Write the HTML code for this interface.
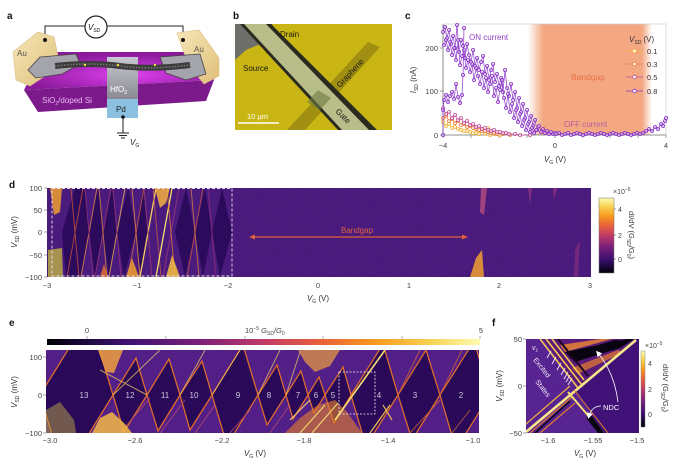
<!DOCTYPE html>
<html><head><meta charset="utf-8"><style>
html,body{margin:0;padding:0;background:#fff;}
svg{display:block;font-family:"Liberation Sans",sans-serif;}
</style></head><body>
<svg width="681" height="470" viewBox="0 0 681 470" xmlns="http://www.w3.org/2000/svg">
<defs>
<linearGradient id="gH" x1="0" y1="0" x2="1" y2="0">
<stop offset="0" stop-color="#000003"/><stop offset="0.08" stop-color="#1a0838"/><stop offset="0.18" stop-color="#3c0f70"/><stop offset="0.35" stop-color="#7a1f7a"/><stop offset="0.5" stop-color="#c03a68"/><stop offset="0.63" stop-color="#e8603a"/><stop offset="0.76" stop-color="#f89a20"/><stop offset="0.88" stop-color="#f8d050"/><stop offset="1" stop-color="#fcfcb0"/>
</linearGradient>
<linearGradient id="gV" x1="0" y1="1" x2="0" y2="0">
<stop offset="0" stop-color="#000003"/><stop offset="0.08" stop-color="#1a0838"/><stop offset="0.18" stop-color="#3c0f70"/><stop offset="0.35" stop-color="#7a1f7a"/><stop offset="0.5" stop-color="#c03a68"/><stop offset="0.63" stop-color="#e8603a"/><stop offset="0.76" stop-color="#f89a20"/><stop offset="0.88" stop-color="#f8d050"/><stop offset="1" stop-color="#fcfcb0"/>
</linearGradient>
<linearGradient id="bgL" x1="0" y1="0" x2="1" y2="0"><stop offset="0" stop-color="#f3a882" stop-opacity="0"/><stop offset="1" stop-color="#f3a882"/></linearGradient>
<linearGradient id="bgR" x1="0" y1="0" x2="1" y2="0"><stop offset="0" stop-color="#f3a882"/><stop offset="1" stop-color="#f3a882" stop-opacity="0"/></linearGradient>
<radialGradient id="glow" cx="0.55" cy="0.6" r="0.55"><stop offset="0" stop-color="#e040f0"/><stop offset="1" stop-color="#8a1a9a"/></radialGradient>
<linearGradient id="hfo" x1="0" y1="0" x2="0" y2="1"><stop offset="0" stop-color="#c8c8d0"/><stop offset="1" stop-color="#8a8a94"/></linearGradient>
<linearGradient id="au" x1="0" y1="0" x2="1" y2="1"><stop offset="0" stop-color="#f6e6b8"/><stop offset="1" stop-color="#e0c07a"/></linearGradient>
<marker id="mP" markerWidth="5" markerHeight="5" refX="2.5" refY="2.5" markerUnits="userSpaceOnUse"><circle cx="2.5" cy="2.5" r="1.6" fill="#d8c0f0" fill-opacity="0.5" stroke="#8a35c8" stroke-width="0.8"/></marker>
<marker id="mM" markerWidth="5" markerHeight="5" refX="2.5" refY="2.5" markerUnits="userSpaceOnUse"><circle cx="2.5" cy="2.5" r="1.6" fill="#fff" fill-opacity="0.5" stroke="#c24f9c" stroke-width="0.8"/></marker>
<marker id="mO" markerWidth="5" markerHeight="5" refX="2.5" refY="2.5" markerUnits="userSpaceOnUse"><circle cx="2.5" cy="2.5" r="1.6" fill="#fff" fill-opacity="0.5" stroke="#ef7f3f" stroke-width="0.8"/></marker>
<marker id="mY" markerWidth="5" markerHeight="5" refX="2.5" refY="2.5" markerUnits="userSpaceOnUse"><circle cx="2.5" cy="2.5" r="1.6" fill="#fff" fill-opacity="0.5" stroke="#f5b63b" stroke-width="0.8"/></marker>
<marker id="arr" markerWidth="6" markerHeight="6" refX="3" refY="3" orient="auto" markerUnits="userSpaceOnUse"><path d="M0,0 L6,3 L0,6 z" fill="#fff"/></marker>
<marker id="arO" markerWidth="6" markerHeight="6" refX="3" refY="3" orient="auto-start-reverse" markerUnits="userSpaceOnUse"><path d="M0,0.5 L6,3 L0,5.5 z" fill="#e0603a"/></marker>
<clipPath id="cd"><rect x="47" y="188" width="544" height="89"/></clipPath>
<clipPath id="ce"><rect x="46" y="350" width="433" height="83"/></clipPath>
<clipPath id="cf"><rect x="526" y="339" width="113" height="94"/></clipPath>
<filter id="nz" x="0" y="0" width="1" height="1"><feTurbulence type="fractalNoise" baseFrequency="0.9" numOctaves="1" seed="3"/><feColorMatrix values="0 0 0 0 0.3  0 0 0 0 0.1  0 0 0 0 0.55  0 0 0 0.3 0"/></filter>
</defs>

<!-- Panel labels -->
<g font-weight="bold" font-size="10" fill="#111">
<text x="7" y="19">a</text><text x="233" y="19">b</text><text x="405" y="19">c</text>
<text x="9" y="188">d</text><text x="9" y="326">e</text><text x="492" y="326">f</text>
</g>

<!-- ===== Panel a ===== -->
<g>
<polyline points="45,40 45,26 85,26" fill="none" stroke="#222" stroke-width="1"/>
<polyline points="107,26 183,26 183,40" fill="none" stroke="#222" stroke-width="1"/>
<circle cx="96" cy="27" r="11" fill="#fff" stroke="#222" stroke-width="1.2"/>
<text x="88" y="30" font-size="8" fill="#111"><tspan font-style="italic">V</tspan><tspan font-size="5" dy="2">SD</tspan></text>
<polygon points="43,52 208,52 214,80 24,90" fill="url(#glow)"/>
<polygon points="24,90 214,80 206,101 38,112" fill="#7c1a8c"/>
<text x="42" y="103" font-size="8" fill="#eab8f2">SiO<tspan font-size="5" dy="2">2</tspan><tspan dy="-2">/doped Si</tspan></text>
<polygon points="13,52 38,32 54,37 58,56 48,74 30,86 16,80" fill="url(#au)" stroke="#d8bf80" stroke-width="0.6"/>
<polygon points="177,33 199,30 219,58 219,76 204,84 188,64" fill="url(#au)" stroke="#d8bf80" stroke-width="0.6"/>
<text x="17" y="56" font-size="8" fill="#555">Au</text>
<text x="194" y="52" font-size="8" fill="#555">Au</text>
<circle cx="45" cy="40" r="2" fill="#111"/><circle cx="183" cy="40" r="2" fill="#111"/>
<polygon points="40,57 76,54 80,64 62,74 36,78 28,70" fill="#a4a4ac" stroke="#444" stroke-width="0.8"/>
<polygon points="160,57 200,54 206,74 186,80 166,73" fill="#a4a4ac" stroke="#444" stroke-width="0.8"/>
<rect x="107" y="57" width="31" height="42" fill="url(#hfo)"/>
<rect x="107" y="99" width="31" height="19" fill="#8cc0e0"/>
<text x="110" y="92" font-size="8" fill="#fff">HfO<tspan font-size="5" dy="2">2</tspan></text>
<text x="116" y="112" font-size="8" fill="#222">Pd</text>
<path d="M55,66 Q90,62 120,66 T190,65" fill="none" stroke="#3c3c3c" stroke-width="6"/>
<path d="M55,66 Q90,62 120,66 T190,65" fill="none" stroke="#777" stroke-width="1.5" stroke-dasharray="1.5,1.5"/>
<circle cx="85" cy="65" r="1.2" fill="#f0e040"/><circle cx="118" cy="65" r="1.2" fill="#f0e040"/><circle cx="155" cy="65" r="1.2" fill="#f0e040"/>
<line x1="123" y1="117" x2="123" y2="133" stroke="#222" stroke-width="1"/>
<circle cx="123" cy="117" r="1.8" fill="#111"/>
<line x1="117" y1="133" x2="129" y2="133" stroke="#222" stroke-width="1"/>
<line x1="119" y1="135.5" x2="127" y2="135.5" stroke="#222" stroke-width="1"/>
<line x1="121" y1="138" x2="125" y2="138" stroke="#222" stroke-width="1"/>
<text x="130" y="145" font-size="8" fill="#222"><tspan font-style="italic">V</tspan><tspan font-size="5" dy="2">G</tspan></text>
</g>

<!-- ===== Panel b ===== -->
<g>
<rect x="235" y="24" width="157" height="106" fill="#c9b514"/>
<polygon points="235,24 272,24 276,33 258,45 246,50 235,60" fill="#6e6e6a"/>
<polygon points="368,42 380,47 305,130 287,130" fill="#9a8810" opacity="0.85"/>
<polygon points="240,24 271,24 377,130 338,130" fill="#2a2a20"/>
<polygon points="244,24 266,24 369,130 342,130" fill="#b8bd8a"/>
<polygon points="318,90 331,98 320,110 307,102" fill="#6a7a40" opacity="0.6"/>
<text x="280" y="37" font-size="8" fill="#1a1a10">Drain</text>
<text x="243" y="71" font-size="8" fill="#1a1a10">Source</text>
<text x="0" y="0" font-size="8" fill="#1a1a10" transform="translate(340,88) rotate(-47)">Graphene</text>
<text x="0" y="0" font-size="8" fill="#1a1a10" transform="translate(335,112) rotate(44)">Gate</text>
<text x="247" y="119" font-size="7.5" fill="#fff">10 μm</text>
<line x1="238" y1="123" x2="279" y2="123" stroke="#fff" stroke-width="1.6"/>
</g>

<!-- ===== Panel c ===== -->
<g>
<rect x="543" y="24" width="99" height="111" fill="#f3a882"/>
<rect x="528" y="24" width="15" height="111" fill="url(#bgL)"/>
<rect x="642" y="24" width="10" height="111" fill="url(#bgR)"/>
<rect x="443" y="24" width="223" height="111" fill="none" stroke="#cfcfcf" stroke-width="0.7"/>
<line x1="443" y1="24" x2="443" y2="135" stroke="#777" stroke-width="0.8"/>
<line x1="443" y1="135" x2="666" y2="135" stroke="#777" stroke-width="0.8"/>
<g stroke="#777" stroke-width="0.7">
<line x1="440" y1="135" x2="443" y2="135"/><line x1="440" y1="91" x2="443" y2="91"/><line x1="440" y1="48" x2="443" y2="48"/>
<line x1="443" y1="135" x2="443" y2="138"/><line x1="471" y1="135" x2="471" y2="138"/><line x1="499" y1="135" x2="499" y2="138"/><line x1="527" y1="135" x2="527" y2="138"/><line x1="555" y1="135" x2="555" y2="138"/><line x1="582" y1="135" x2="582" y2="138"/><line x1="610" y1="135" x2="610" y2="138"/><line x1="638" y1="135" x2="638" y2="138"/><line x1="666" y1="135" x2="666" y2="138"/>
</g>
<g font-size="7.5" fill="#444" text-anchor="end">
<text x="438" y="51">200</text><text x="438" y="94">100</text><text x="438" y="138">0</text>
</g>
<g font-size="7.5" fill="#444" text-anchor="middle">
<text x="443" y="148">−4</text><text x="555" y="148">0</text><text x="666" y="148">4</text>
</g>
<text x="555" y="162" font-size="8" fill="#333" text-anchor="middle"><tspan font-style="italic">V</tspan><tspan font-size="5" dy="2">G</tspan><tspan dy="-2"> (V)</tspan></text>
<text x="0" y="0" font-size="8" fill="#333" text-anchor="middle" transform="translate(416,80) rotate(-90)"><tspan font-style="italic">I</tspan><tspan font-size="5" dy="2">SD</tspan><tspan dy="-2"> (nA)</tspan></text>
<text x="469" y="40" font-size="8" fill="#9040c8">ON current</text>
<text x="571" y="80" font-size="8.5" fill="#e8704a">Bandgap</text>
<text x="564" y="127" font-size="8" fill="#b85aa0">OFF current</text>
<g fill="none" stroke-width="0.7">
<polyline stroke="#f5b63b" marker-start="url(#mY)" marker-mid="url(#mY)" marker-end="url(#mY)" points="443,122 446,126 449,124 452,128 455,127 458,129 461,130 464,131 467,131 470,132 473,133 476,133 479,134 482,129 485,134 488,128 490,135 495,134 500,135"/>
<polyline stroke="#ef7f3f" marker-start="url(#mO)" marker-mid="url(#mO)" marker-end="url(#mO)" points="443,118 446,116 449,121 452,119 455,123 458,121 461,125 464,124 467,127 470,126 473,128 476,129 479,130 482,131 485,131 488,132 491,133 494,133 497,134 503,134 510,135"/>
<polyline stroke="#c24f9c" marker-start="url(#mM)" marker-mid="url(#mM)" marker-end="url(#mM)" points="443,108 446,114 449,112 452,118 455,115 458,120 461,118 464,123 467,121 470,125 473,124 476,127 479,126 482,129 485,128 488,130 491,131 494,130 497,132 500,132 503,133 506,133 509,134 515,134 520,135 530,135"/>
<polyline stroke="#8a35c8" marker-start="url(#mP)" marker-mid="url(#mP)" marker-end="url(#mP)" points="443,135 443,110 444,100 446,95 448,102 450,96 452,92 454,99 456,84 458,97 460,103 462,95 463,75 464,28"/>
<polyline stroke="#8a35c8" marker-start="url(#mP)" marker-mid="url(#mP)" marker-end="url(#mP)" points="443,32 445,27 447,38 449,30 451,44 453,36 455,48 457,25 459,52 461,40 463,46 465,58 467,44 469,55 471,62 473,50 475,66 477,58 479,70 481,62 483,56 485,74 487,66 489,80 491,70 493,64 495,82 497,74 499,86 501,78 503,92 505,70 507,88 509,96 511,84 513,100 515,92 517,108 519,98 521,112 523,104 525,118 527,110 529,122 531,116 533,126 535,120 537,130 539,126 541,132 543,129 545,133 547,131 549,134 551,132 553,134 555,133"/>
<polyline stroke="#8a35c8" marker-start="url(#mP)" marker-mid="url(#mP)" marker-end="url(#mP)" points="444,45 446,40 448,50 450,42 452,55 454,48 456,60 458,40 460,65 462,56 464,50 466,68 468,60 470,72 472,64 474,80 476,68 478,76 480,84 482,72 484,88 486,78 488,92 490,84 492,76 494,96 496,88 498,102 500,90 502,80 504,98 506,108 508,94 510,112 512,104 514,118 516,110 518,122 520,114 522,126 524,120 526,130 528,124 530,132 532,128 534,133 536,130"/>
<polyline stroke="#8a35c8" marker-start="url(#mP)" marker-mid="url(#mP)" marker-end="url(#mP)" points="556,134 559,133 562,135 565,134 568,133 571,135 574,134 577,133 580,134 583,135 586,134 589,133 592,134 595,135 598,134 601,133 604,134 607,135 610,134 613,133 616,134 619,135 622,134 625,133 628,134 631,135 634,134 637,133 640,134 643,133 646,131 649,129 652,131 655,127 658,129 661,124 663,126 665,121 666,118"/>
</g>
<text x="629" y="42" font-size="8" fill="#333"><tspan font-style="italic">V</tspan><tspan font-size="5" dy="2">SD</tspan><tspan dy="-2"> (V)</tspan></text>
<g stroke-width="0.8">
<line x1="626" y1="51" x2="643" y2="51" stroke="#f5b63b"/><circle cx="634.5" cy="51" r="1.8" fill="#fff" stroke="#f5b63b"/>
<line x1="626" y1="64" x2="643" y2="64" stroke="#ef7f3f"/><circle cx="634.5" cy="64" r="1.8" fill="#fff" stroke="#ef7f3f"/>
<line x1="626" y1="77" x2="643" y2="77" stroke="#c24f9c"/><circle cx="634.5" cy="77" r="1.8" fill="#fff" stroke="#c24f9c"/>
<line x1="626" y1="91" x2="643" y2="91" stroke="#8a35c8"/><circle cx="634.5" cy="91" r="1.8" fill="#fff" stroke="#8a35c8"/>
</g>
<g font-size="7.5" fill="#333">
<text x="647" y="54">0.1</text><text x="647" y="67">0.3</text><text x="647" y="80">0.5</text><text x="647" y="94">0.8</text>
</g>
</g>

<!-- ===== Panel d ===== -->
<g>
<rect x="47" y="188" width="544" height="89" fill="#3d1070"/>
<rect x="47" y="188" width="544" height="89" filter="url(#nz)"/>
<g clip-path="url(#cd)">
<g fill="#2c0a5c">
<polygon points="62,232 75,188 84,188 89,232 80,277 66,277"/>
<polygon points="89,232 98,188 103,232 95,277"/>
<polygon points="103,232 112,188 117,232 109,277"/>
<polygon points="117,232 128,188 136,232 124,277"/>
<polygon points="136,232 143,188 148,232 141,277"/>
<polygon points="175,232 186,188 195,232 185,277"/>
<polygon points="195,232 205,188 212,232 203,277"/>
<polygon points="212,232 222,188 232,232 220,277"/>
</g>
<g stroke-width="1" fill="none">
<path d="M67,277 L83,188 M71,188 L79,277" stroke="#c8503a" opacity="0.8"/>
<path d="M81,277 L97,188" stroke="#e08a40" opacity="0.8"/>
<path d="M85,188 L93,277" stroke="#8a2a78" opacity="0.9"/>
<path d="M95,277 L111,188" stroke="#a03a70" opacity="0.8"/>
<path d="M99,188 L107,277" stroke="#e8903a" opacity="0.7"/>
<path d="M109,277 L125,188" stroke="#f0b050" opacity="0.8"/>
<path d="M113,188 L121,277" stroke="#9a3478" opacity="0.8"/>
<path d="M128,277 L144,188" stroke="#d06040" opacity="0.8"/>
<path d="M132,188 L140,277" stroke="#e88a3a" opacity="0.8"/>
<path d="M140,277 L156,188" stroke="#f8d060" stroke-width="1.3"/>
<path d="M144,188 L152,277" stroke="#a03a70" opacity="0.8"/>
<path d="M153,188 L161,277" stroke="#d06a40" opacity="0.7"/>
<path d="M156,277 L172,188" stroke="#f8e070" stroke-width="1.3"/>
<path d="M163,277 L179,188" stroke="#9a3478" opacity="0.9"/>
<path d="M167,188 L175,277" stroke="#e07a3a" opacity="0.8"/>
<path d="M187,277 L203,188" stroke="#c8503a" opacity="0.8"/>
<path d="M191,188 L199,277" stroke="#e88a3a" opacity="0.7"/>
<path d="M208,188 L216,277" stroke="#8a2a78" opacity="0.9"/>
</g>
<g opacity="0.85">
<polygon points="50,188 62,188 60,212 54,215" fill="#f0a030"/>
<polygon points="48,250 62,248 63,277 48,277" fill="#b8a848"/>
<polygon points="155,188 170,188 166,203 160,208" fill="#f4b040"/>
<polygon points="126,277 132,258 139,277" fill="#f0a030"/>
<polygon points="166,277 172,255 180,277" fill="#f8c040"/>
<polygon points="100,277 104,264 108,277" fill="#e07030"/>
<polygon points="470,277 476,258 482,250 484,277" fill="#f0a030"/>
<polygon points="481,188 487,188 484,215 480,212" fill="#b04a80"/>
<polygon points="528,188 532,188 530,205" fill="#8a3080"/>
<polygon points="553,188 557,188 554,200" fill="#8a3080"/>
<polygon points="575,250 580,240 578,277 574,277" fill="#7a2a80"/>
</g>
</g>
<rect x="52" y="188.5" width="180" height="87.5" fill="none" stroke="#e8e0f0" stroke-width="0.9" stroke-dasharray="3,2"/>
<line x1="252" y1="237" x2="465" y2="237" stroke="#e0603a" stroke-width="1.2" marker-start="url(#arO)" marker-end="url(#arO)"/>
<text x="341" y="233" font-size="8" fill="#e0603a">Bandgap</text>
<g stroke="#777" stroke-width="0.7">
<line x1="44" y1="188" x2="47" y2="188"/><line x1="44" y1="210" x2="47" y2="210"/><line x1="44" y1="232" x2="47" y2="232"/><line x1="44" y1="255" x2="47" y2="255"/><line x1="44" y1="277" x2="47" y2="277"/>
</g>
<g font-size="7.5" fill="#444" text-anchor="end">
<text x="42" y="191">100</text><text x="42" y="213">50</text><text x="42" y="235">0</text><text x="42" y="258">−50</text><text x="42" y="280">−100</text>
</g>
<g font-size="7.5" fill="#444" text-anchor="middle">
<text x="47" y="288">−3</text><text x="137" y="288">−1</text><text x="228" y="288">−2</text><text x="318" y="288">0</text><text x="409" y="288">1</text><text x="499" y="288">2</text><text x="590" y="288">3</text>
</g>
<text x="318" y="301" font-size="8" fill="#333" text-anchor="middle"><tspan font-style="italic">V</tspan><tspan font-size="5" dy="2">G</tspan><tspan dy="-2"> (V)</tspan></text>
<text x="0" y="0" font-size="8" fill="#333" text-anchor="middle" transform="translate(17,232) rotate(-90)"><tspan font-style="italic">V</tspan><tspan font-size="5" dy="2">SD</tspan><tspan dy="-2"> (mV)</tspan></text>
<rect x="599" y="198" width="15" height="75" fill="url(#gV)" stroke="#777" stroke-width="0.5"/>
<g stroke="#555" stroke-width="0.6"><line x1="614" y1="209" x2="616" y2="209"/><line x1="614" y1="235" x2="616" y2="235"/><line x1="614" y1="259" x2="616" y2="259"/></g>
<g font-size="7" fill="#444"><text x="618" y="212">4</text><text x="618" y="238">2</text><text x="618" y="262">0</text>
<text x="613" y="194">×10<tspan font-size="5" dy="-3">−5</tspan></text></g>
<text x="0" y="0" font-size="7.5" fill="#333" text-anchor="middle" transform="translate(629,235) rotate(90)">dI/dV (G<tspan font-size="5" dy="2">SD</tspan><tspan dy="-2">/G</tspan><tspan font-size="5" dy="2">0</tspan><tspan dy="-2">)</tspan></text>
</g>

<!-- ===== Panel e ===== -->
<g>
<rect x="47" y="339" width="433" height="6" fill="url(#gH)"/>
<g stroke="#777" stroke-width="0.6"><line x1="87" y1="336" x2="87" y2="339"/><line x1="166" y1="336" x2="166" y2="339"/><line x1="245" y1="336" x2="245" y2="339"/><line x1="323" y1="336" x2="323" y2="339"/><line x1="402" y1="336" x2="402" y2="339"/><line x1="480" y1="336" x2="480" y2="339"/></g>
<g font-size="7.5" fill="#444"><text x="87" y="333" text-anchor="middle">0</text><text x="481" y="333" text-anchor="middle">5</text>
<text x="245" y="333">10<tspan font-size="5" dy="-3">−5</tspan><tspan dy="3"> </tspan><tspan font-style="italic">G</tspan><tspan font-size="5" dy="2">SD</tspan><tspan dy="-2">/</tspan><tspan font-style="italic">G</tspan><tspan font-size="5" dy="2">0</tspan></text></g>
<rect x="46" y="350" width="433" height="83" fill="#46157c"/>
<rect x="46" y="350" width="433" height="83" filter="url(#nz)"/>
<g clip-path="url(#ce)">
<g fill="#2a0a58" stroke="#e8702a" stroke-width="1.2">
<polygon points="40,395 89,316 113,395 64,474"/>
<polygon points="113,395 136,358 147,395 124,432"/>
<polygon points="147,395 169,359 180,395 158,431"/>
<polygon points="180,395 202,361 212,395 190,430"/>
<polygon points="212,395 243,345 258,395 227,445"/>
<polygon points="258,395 277,365 286,395 267,425"/>
<polygon points="286,395 301,371 308,395 293,419"/>
<polygon points="308,395 319,377 325,395 314,413"/>
<polygon points="325,395 343,367 351,395 334,423"/>
<polygon points="351,395 383,344 398,395 366,446"/>
<polygon points="398,395 426,350 440,395 412,440"/>
<polygon points="440,395 474,341 490,395 456,449"/>
</g>
<g fill="none" stroke-width="1">
<path d="M113,395 L160,350 M147,395 L100,370 M180,395 L205,350 M212,395 L240,350 M258,395 L280,350 M286,395 L300,352" stroke="#f8d060" opacity="0.7"/>
<path d="M120,433 L150,398 M160,433 L185,400 M195,433 L215,405 M230,433 L250,410 M270,433 L290,405" stroke="#b84a70" opacity="0.8"/>
<path d="M398,395 L420,350 M440,395 L462,350 M410,433 L440,400 M452,433 L470,410" stroke="#d0603a" opacity="0.8"/>
</g>
<polygon points="98,350 123,350 114,373 106,372" fill="#f0a040" opacity="0.85"/>
<polygon points="92,433 100,418 112,412 125,424 132,433" fill="#f4b848" opacity="0.85"/>
<polygon points="285,433 300,418 318,405 335,400 347,412 362,433" fill="#e8802a" opacity="0.6"/>
<polygon points="298,350 340,350 330,366 315,372 305,362" fill="#f0a040" opacity="0.7"/>
<polygon points="46,410 60,402 74,420 76,433 46,433" fill="#b8a848" opacity="0.5"/>
<path d="M300,433 L325,405 M312,433 L338,403 M290,420 L310,400" stroke="#f8e070" stroke-width="1.2" opacity="0.9"/>
<path d="M335,420 L385,350" stroke="#f8e070" stroke-width="1.6"/>
<path d="M370,433 L390,405 M383,405 L392,420" stroke="#f4c050" stroke-width="1.2"/>
</g>
<rect x="339" y="372" width="36" height="42" fill="none" stroke="#f0eef6" stroke-width="0.8" stroke-dasharray="2,1.5"/>
<g font-size="8" fill="#cfc6dc" text-anchor="middle">
<text x="84" y="398">13</text><text x="130" y="398">12</text><text x="165" y="398">11</text><text x="194" y="398">10</text><text x="238" y="398">9</text><text x="269" y="398">8</text><text x="298" y="398">7</text><text x="316" y="398">6</text><text x="333" y="398">5</text><text x="379" y="398">4</text><text x="415" y="398">3</text><text x="461" y="398">2</text>
</g>
<g stroke="#777" stroke-width="0.7"><line x1="43" y1="357" x2="46" y2="357"/><line x1="43" y1="395" x2="46" y2="395"/><line x1="43" y1="433" x2="46" y2="433"/></g>
<g font-size="7.5" fill="#444" text-anchor="end"><text x="42" y="360">100</text><text x="42" y="398">0</text><text x="42" y="436">−100</text></g>
<g font-size="7.5" fill="#444" text-anchor="middle"><text x="50" y="443">−3.0</text><text x="135" y="443">−2.6</text><text x="222" y="443">−2.2</text><text x="304" y="443">−1.8</text><text x="388" y="443">−1.4</text><text x="473" y="443">−1.0</text></g>
<text x="255" y="456" font-size="8" fill="#333" text-anchor="middle"><tspan font-style="italic">V</tspan><tspan font-size="5" dy="2">G</tspan><tspan dy="-2"> (V)</tspan></text>
<text x="0" y="0" font-size="8" fill="#333" text-anchor="middle" transform="translate(17,392) rotate(-90)"><tspan font-style="italic">V</tspan><tspan font-size="5" dy="2">SD</tspan><tspan dy="-2"> (mV)</tspan></text>
</g>

<!-- ===== Panel f ===== -->
<g>
<rect x="526" y="339" width="113" height="94" fill="#4c1a88"/>
<rect x="526" y="339" width="113" height="94" filter="url(#nz)"/>
<g clip-path="url(#cf)">
<polygon points="574,388 632,339 639,339 639,433 604,433" fill="#401278"/>
<polygon points="543,339 634,339 578,387" fill="#5a1a7a"/>
<polygon points="565,352 628,339 634,339 620,348 575,362" fill="#0a0410"/>
<polygon points="560,345 600,339 612,339 565,352" fill="#f08a30" opacity="0.8"/>
<polygon points="572,368 618,350 624,352 578,374" fill="#e07a30" opacity="0.75"/>
<polygon points="582,350 615,340 620,340 590,354" fill="#0a0410"/>
<path d="M540,339 L578,388 M546,339 L582,385 M552,339 L584,380" fill="none" stroke="#f6c850" stroke-width="1.6"/>
<path d="M558,339 L588,376" fill="none" stroke="#1a0620" stroke-width="2"/>
<path d="M526,432 L636,340" fill="none" stroke="#f8e78a" stroke-width="2.6"/>
<path d="M526,424 L570,386" fill="none" stroke="#f0b040" stroke-width="1.2"/>
<path d="M530,433 L572,397 M540,433 L575,403" fill="none" stroke="#e07a30" stroke-width="1.2"/>
<path d="M535,433 L570,401" fill="none" stroke="#0a0410" stroke-width="1.5"/>
<path d="M568,392 L603,433" fill="none" stroke="#f8e070" stroke-width="2"/>
<path d="M574,390 L608,433" fill="none" stroke="#e8802a" stroke-width="1"/>
<path d="M586,418 L598,433 L604,433 L592,416 z" fill="#0a0410"/>
<g stroke="#f0eaf8" stroke-width="0.9">
<line x1="551" y1="351" x2="547" y2="358"/><line x1="556" y1="357" x2="552" y2="364"/><line x1="561" y1="363" x2="557" y2="370"/><line x1="565" y1="368" x2="561" y2="375"/><line x1="568" y1="372" x2="564" y2="379"/><line x1="570" y1="375" x2="566" y2="382"/><line x1="572" y1="378" x2="568" y2="385"/>
</g>
</g>
<text x="532" y="350" font-size="7" fill="#f0eaf8" font-style="italic">v<tspan font-size="4.5" dy="1.5">1</tspan></text>
<text x="0" y="0" font-size="7" fill="#f0eaf8" transform="translate(533,360) rotate(52)">Excited</text>
<text x="0" y="0" font-size="7" fill="#f0eaf8" transform="translate(535,382) rotate(52)">States</text>
<text x="603" y="410" font-size="7.5" fill="#fff">NDC</text>
<path d="M618,402 Q614,372 598,353" fill="none" stroke="#fff" stroke-width="0.8" marker-end="url(#arr)"/>
<path d="M601,406 Q592,406 589,416" fill="none" stroke="#fff" stroke-width="0.8" marker-end="url(#arr)"/>
<g stroke="#777" stroke-width="0.7"><line x1="523" y1="339" x2="526" y2="339"/><line x1="523" y1="386" x2="526" y2="386"/><line x1="523" y1="433" x2="526" y2="433"/></g>
<g font-size="7.5" fill="#444" text-anchor="end"><text x="522" y="342">50</text><text x="522" y="389">0</text><text x="522" y="436">−50</text></g>
<g font-size="7.5" fill="#444" text-anchor="middle"><text x="548" y="443">−1.6</text><text x="593" y="443">−1.55</text><text x="637" y="443">−1.5</text></g>
<text x="585" y="456" font-size="8" fill="#333" text-anchor="middle"><tspan font-style="italic">V</tspan><tspan font-size="5" dy="2">G</tspan><tspan dy="-2"> (V)</tspan></text>
<text x="0" y="0" font-size="8" fill="#333" text-anchor="middle" transform="translate(502,386) rotate(-90)"><tspan font-style="italic">V</tspan><tspan font-size="5" dy="2">SD</tspan><tspan dy="-2"> (mV)</tspan></text>
<rect x="641" y="351" width="4" height="76" fill="url(#gV)" stroke="#777" stroke-width="0.4"/>
<g font-size="7" fill="#444"><text x="648" y="366">4</text><text x="648" y="392">2</text><text x="648" y="417">0</text>
<text x="645" y="348">×10<tspan font-size="5" dy="-3">−5</tspan></text></g>
<text x="0" y="0" font-size="7.5" fill="#333" text-anchor="middle" transform="translate(663,388) rotate(90)">dI/dV (G<tspan font-size="5" dy="2">SD</tspan><tspan dy="-2">/G</tspan><tspan font-size="5" dy="2">0</tspan><tspan dy="-2">)</tspan></text>
</g>
</svg>
</body></html>
